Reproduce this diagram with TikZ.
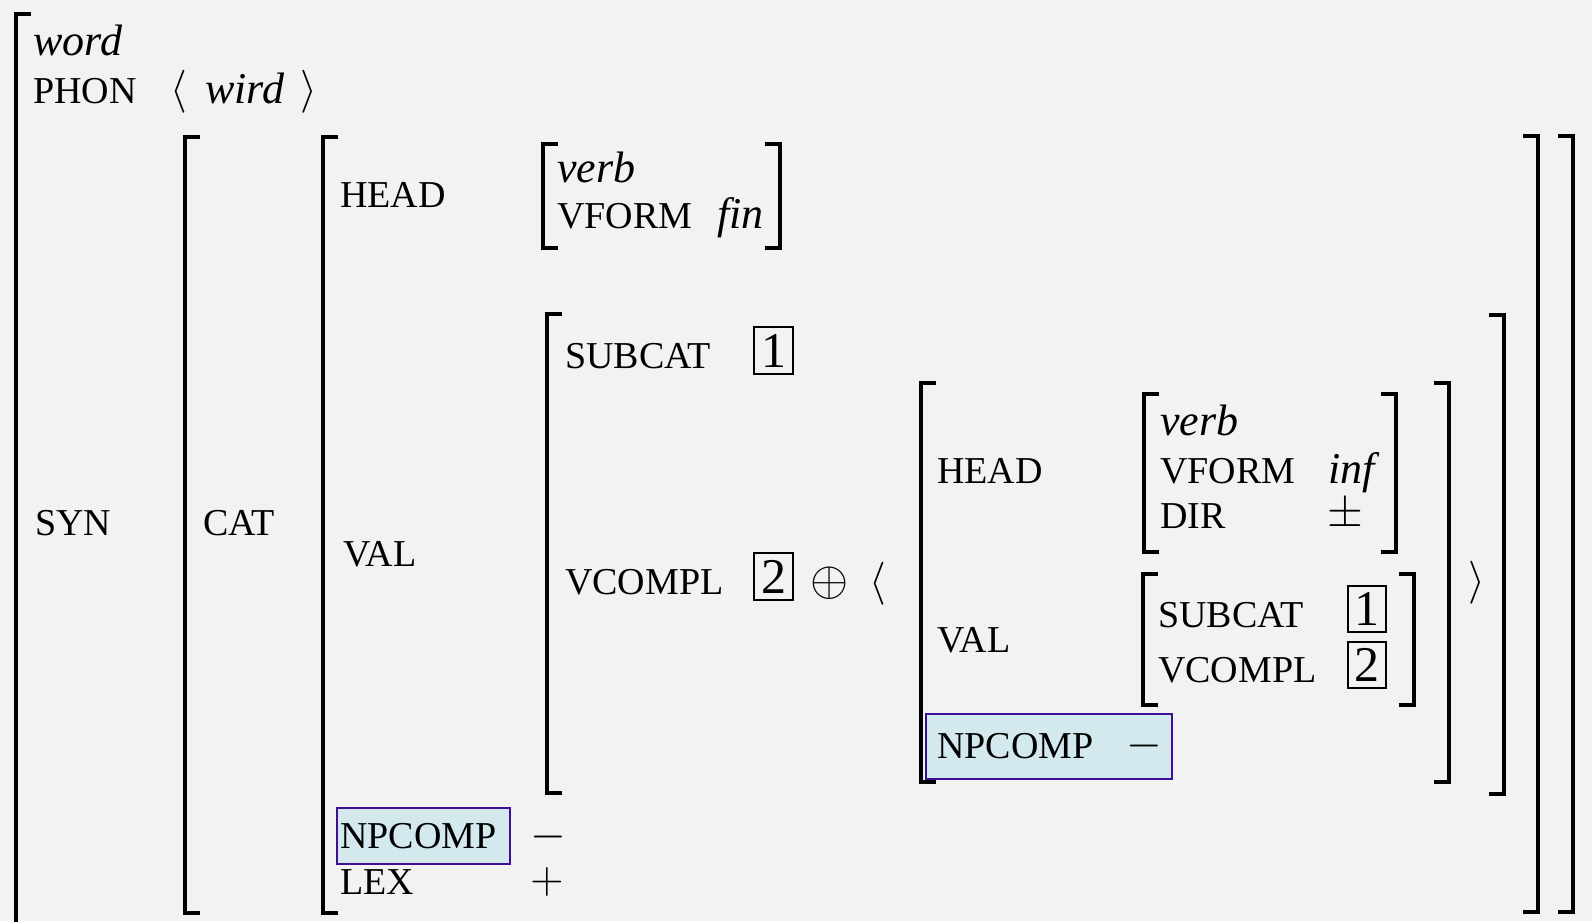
\RequirePackage{fix-cm}
\documentclass[tikz,border=0pt]{standalone}
\usepackage{fontspec}
\setmainfont{Liberation Serif}
\definecolor{bg}{HTML}{F2F2F2}
\definecolor{hlfill}{RGB}{211,233,238}
\definecolor{hldraw}{RGB}{62,14,150}
\tikzset{
  lbl/.style={anchor=base west, inner sep=0pt, font=\fontsize{38}{46}\selectfont},
  ival/.style={anchor=base west, inner sep=0pt, font=\fontsize{44}{50}\selectfont\itshape},
  sym/.style={anchor=center, inner sep=0pt, font=\fontsize{46}{52}\selectfont},
  angl/.style={anchor=center, inner sep=0pt, font=\fontsize{43}{50}\selectfont},
  brk/.style={line width=3.6pt, line cap=butt, line join=miter},
  tagbox/.style={draw, line width=1.8pt, inner sep=0pt, minimum width=39pt, minimum height=47pt},
  tagnum/.style={anchor=center, inner sep=0pt, font=\fontsize{50}{56}\selectfont},
  hl/.style={draw=hldraw, fill=hlfill, line width=2.4pt, inner sep=0pt, anchor=north west},
}
\newcommand\avmL[3]{\draw[brk] (#1+15,#2) -- (#1,#2) -- (#1,#3) -- (#1+15,#3);}
\newcommand\avmR[3]{\draw[brk] (#1-15,#2) -- (#1,#2) -- (#1,#3) -- (#1-15,#3);}
\begin{document}
\begin{tikzpicture}[x=1pt,y=-1pt]
\fill[bg] (0,0) rectangle (1592,921);
\useasboundingbox (0,0) rectangle (1592,921);

% brackets
\draw[brk] (31,14) -- (16,14) -- (16,925);
\avmL{185}{137}{913}
\avmL{323}{137}{913}
\avmL{543}{144}{248}
\avmR{780}{144}{248}
\avmL{547}{314}{793}
\avmL{921}{383}{782}
\avmL{1144}{394}{552}
\avmR{1396}{394}{552}
\avmL{1143}{574}{705}
\avmR{1414}{574}{705}
\avmR{1449}{383}{782}
\avmR{1504}{315}{794}
\avmR{1538}{136}{912}
\avmR{1573}{136}{912}

% highlight boxes
\node[hl, minimum width=173pt, minimum height=56pt] (hlouter) at (336,807) {};
\node[hl, minimum width=246pt, minimum height=65pt] (hlinner) at (925,713) {};

% top level
\node[ival] (word) at (33,55) {word};
\node[lbl] (phon) at (33,103) {PHON};
\node[angl] (phonl) at (179,91.5) {$\langle$};
\node[ival] (wird) at (205,103) {wird};
\node[angl] (phonr) at (309,91.5) {$\rangle$};
\node[lbl] (syn) at (35,535) {SYN};
\node[lbl] (cat) at (203,535) {CAT};

% CAT level
\node[lbl] (head) at (340,207) {HEAD};
\node[ival] (verb) at (557,182) {verb};
\node[lbl] (vform) at (557,228) {VFORM};
\node[ival] (fin) at (717,228) {fin};
\node[lbl] (val) at (343,566) {VAL};
\node[lbl] (subcat) at (565,368) {SUBCAT};
\node[tagbox] (tA) at (773.5,350.5) {};
\node[tagnum] (tAn) at (tA.center) {1};
\node[lbl] (vcompl) at (565,594) {VCOMPL};
\node[tagbox] (tB) at (773.5,576.5) {};
\node[tagnum] (tBn) at (tB.center) {2};
\node[sym, font=\fontsize{49}{55}\selectfont] (oplus) at (829.5,583.5) {$\oplus$};
\node[angl] (listl) at (877.5,583.5) {$\langle$};
\node[angl] (listr) at (1477,583) {$\rangle$};
\node[lbl] (npc) at (340,848) {NPCOMP};
\node[sym] (npcv) at (548,837) {$-$};
\node[lbl] (lex) at (340,894) {LEX};
\node[sym] (lexv) at (547,882) {$+$};

% inner AVM
\node[lbl] (ihead) at (937,483) {HEAD};
\node[ival] (iverb) at (1160,435) {verb};
\node[lbl] (ivform) at (1160,483) {VFORM};
\node[ival] (iinf) at (1328,483) {inf};
\node[lbl] (idir) at (1160,528) {DIR};
\node[sym] (idirv) at (1345,515) {$\pm$};
\node[lbl] (ival) at (937,652) {VAL};
\node[lbl] (isub) at (1158,627) {SUBCAT};
\node[tagbox, minimum width=38pt, minimum height=46pt] (tC) at (1367,609) {};
\node[tagnum] (tCn) at (tC.center) {1};
\node[lbl] (ivc) at (1158,682) {VCOMPL};
\node[tagbox, minimum width=38pt, minimum height=46pt] (tD) at (1367,665) {};
\node[tagnum] (tDn) at (tD.center) {2};
\node[lbl] (inpc) at (937,758) {NPCOMP};
\node[sym] (inpcv) at (1144,746) {$-$};
\end{tikzpicture}
\end{document}
